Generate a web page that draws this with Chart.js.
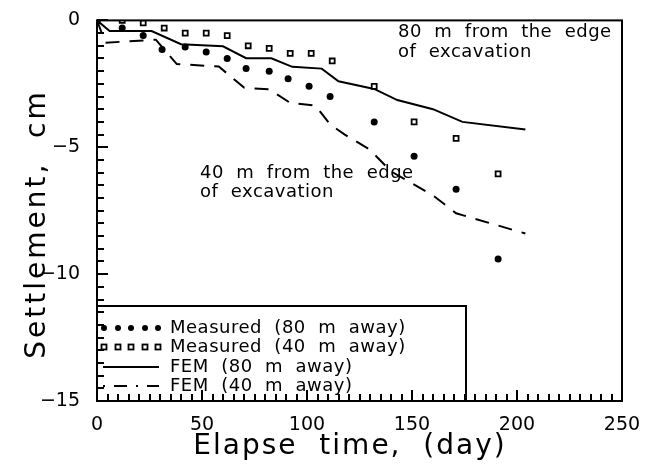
<!DOCTYPE html>
<html>
<head>
<meta charset="utf-8">
<script src="https://cdn.jsdelivr.net/npm/chart.js@4.4.1/dist/chart.umd.min.js"></script>
<style>
  html, body { margin: 0; padding: 0; background: #fff; }
</style>
</head>
<body>
<canvas id="settlement" width="656" height="469"></canvas>
<script>
// elapsed days and settlement (cm)
const measured80Days = [0, 12, 22, 31, 42, 52, 62, 71, 82, 91, 101, 111, 132, 151, 171, 191]
const measured80 = [0, -0.3, -0.6, -1.15, -1.05, -1.25, -1.5, -1.9, -2.0, -2.3, -2.6, -3.0, -4.0, -5.35, -6.65, -9.4]

const measured40Days = [0, 12, 22, 32, 42, 52, 62, 72, 82, 92, 102, 112, 132, 151, 171, 191]
const measured40 = [0, 0, -0.1, -0.3, -0.5, -0.5, -0.6, -1.0, -1.1, -1.3, -1.3, -1.6, -2.6, -4.0, -4.65, -6.05]

const fem80Days = [0, 6, 26, 40, 60, 71, 83, 93, 107, 115, 132, 143, 160, 174, 204]
const fem80 = [0, -0.42, -0.42, -0.94, -1.02, -1.49, -1.49, -1.83, -1.9, -2.4, -2.7, -3.14, -3.5, -4.0, -4.3]

const fem40Days = [0, 4, 28, 38, 58, 70, 82, 92, 104, 111, 118, 130, 140, 160, 171, 204]
const fem40 = [0, -0.88, -0.76, -1.72, -1.82, -2.65, -2.72, -3.25, -3.36, -4.1, -4.5, -5.1, -5.95, -6.9, -7.6, -8.4]

const xTicks = [0, 50, 100, 150, 200, 250]
const yTicks = [0, -5, -10, -15]
const legendLabels = ['Measured  (80  m  away)', 'Measured  (40  m  away)', 'FEM  (80  m  away)', 'FEM  (40  m  away)']

const FONT = '"DejaVu Sans", sans-serif'

function toPoints(days, values) {
  return days.map((d, i) => ({x: d, y: values[i]}))
}

function line(ctx, x1, y1, x2, y2) {
  ctx.beginPath()
  ctx.moveTo(x1, y1)
  ctx.lineTo(x2, y2)
  ctx.stroke()
}

const decorations = {
  id: 'decorations',
  afterDatasetsDraw(chart) {
    const ctx = chart.ctx
    const a = chart.chartArea
    const {x, y} = chart.scales
    ctx.save()
    ctx.strokeStyle = '#000'
    ctx.fillStyle = '#000'

    // annotations
    ctx.font = '18px ' + FONT
    ctx.textBaseline = 'middle'
    ctx.textAlign = 'left'
    ctx.letterSpacing = '0.5px'
    ctx.fillText('80  m  from  the  edge', 398, 32)
    ctx.fillText('of  excavation', 398, 52)
    ctx.fillText('40  m  from  the  edge', 200, 173)
    ctx.fillText('of  excavation', 200, 192)

    // legend box
    const boxRight = 466, boxTop = 306
    ctx.lineWidth = 2
    ctx.fillStyle = '#fff'
    ctx.fillRect(a.left, boxTop, boxRight - a.left, a.bottom - boxTop)
    ctx.strokeRect(a.left, boxTop, boxRight - a.left, a.bottom - boxTop)
    ctx.fillStyle = '#000'
    const rows = [328, 347, 367, 386]
    const sx = [104, 118, 131, 145, 158]
    // filled dots
    sx.forEach(px => { ctx.beginPath(); ctx.arc(px, rows[0], 3, 0, Math.PI * 2); ctx.fill() })
    // open squares
    ctx.lineWidth = 1.8
    sx.forEach(px => ctx.strokeRect(px - 2.5, rows[1] - 2.5, 5, 5))
    // solid
    ctx.lineWidth = 2
    line(ctx, 103, rows[2], 159, rows[2])
    // dashed
    ctx.setLineDash([2, 9, 13, 9])
    line(ctx, 103, rows[3], 159, rows[3])
    ctx.setLineDash([])

    ctx.font = '18px ' + FONT
    ctx.letterSpacing = '0.5px'
    legendLabels.forEach((t, i) => ctx.fillText(t, 170, rows[i]))

    // frame
    ctx.lineWidth = 2
    ctx.strokeRect(a.left, a.top, a.right - a.left, a.bottom - a.top)

    // inward ticks
    ctx.lineWidth = 2
    for (let d = 0; d <= 250; d += 5) {
      const px = Math.round(x.getPixelForValue(d))
      line(ctx, px, a.bottom, px, a.bottom - (d % 50 === 0 ? 11 : 7))
    }
    for (let v = 0; v >= -15; v -= 0.5) {
      const py = Math.round(y.getPixelForValue(v))
      line(ctx, a.left, py, a.left + (v % 5 === 0 ? 11 : 7), py)
    }

    // axis titles
    ctx.font = '28px ' + FONT
    ctx.letterSpacing = '2px'
    ctx.textAlign = 'center'
    ctx.fillText('Elapse  time,  (day)', 350, 447)
    ctx.save()
    ctx.translate(38, 224)
    ctx.rotate(-Math.PI / 2)
    ctx.font = '28px ' + FONT
    ctx.letterSpacing = '3px'
    ctx.fillText('Settlement,  cm', 0, 0)
    ctx.restore()

    ctx.restore()
  }
}

const ctx = document.querySelector('#settlement')
const settlementChart = new Chart(ctx, {
  type: 'scatter',
  data: {
    datasets: [
      {
        label: legendLabels[0],
        data: toPoints(measured80Days, measured80),
        pointStyle: 'circle',
        pointRadius: 3.5,
        backgroundColor: '#000',
        borderColor: '#000',
        borderWidth: 0
      },
      {
        label: legendLabels[1],
        data: toPoints(measured40Days, measured40),
        pointStyle: 'rect',
        pointRadius: 3.5,
        backgroundColor: '#fff',
        borderColor: '#000',
        borderWidth: 1.8
      },
      {
        label: legendLabels[2],
        data: toPoints(fem80Days, fem80),
        showLine: true,
        pointRadius: 0,
        borderColor: '#000',
        borderWidth: 2,
        tension: 0
      },
      {
        label: legendLabels[3],
        data: toPoints(fem40Days, fem40),
        showLine: true,
        pointRadius: 0,
        borderColor: '#000',
        borderWidth: 2,
        borderDash: [14, 10],
        tension: 0
      }
    ]
  },
  options: {
    responsive: false,
    animation: false,
    layout: {padding: {top: 13, right: 34, left: 0, bottom: 0}},
    plugins: {legend: {display: false}, tooltip: {enabled: false}},
    scales: {
      x: {
        type: 'linear',
        min: 0,
        max: 250,
        grid: {display: false},
        border: {display: false},
        afterBuildTicks: s => { s.ticks = xTicks.map(v => ({value: v})) },
        afterFit: s => { s.height = 68 },
        ticks: {color: '#000', padding: 5, maxRotation: 0, font: {size: 19, family: FONT}}
      },
      y: {
        type: 'linear',
        min: -15,
        max: 0,
        grid: {display: false},
        border: {display: false},
        afterBuildTicks: s => { s.ticks = yTicks.map(v => ({value: v})) },
        afterFit: s => { s.width = 97 },
        ticks: {
          color: '#000',
          padding: 9,
          font: {size: 19, family: FONT},
          callback: v => v < 0 ? '\u2212' + Math.abs(v) : String(v)
        }
      }
    }
  },
  plugins: [decorations]
})
</script>
</body>
</html>
